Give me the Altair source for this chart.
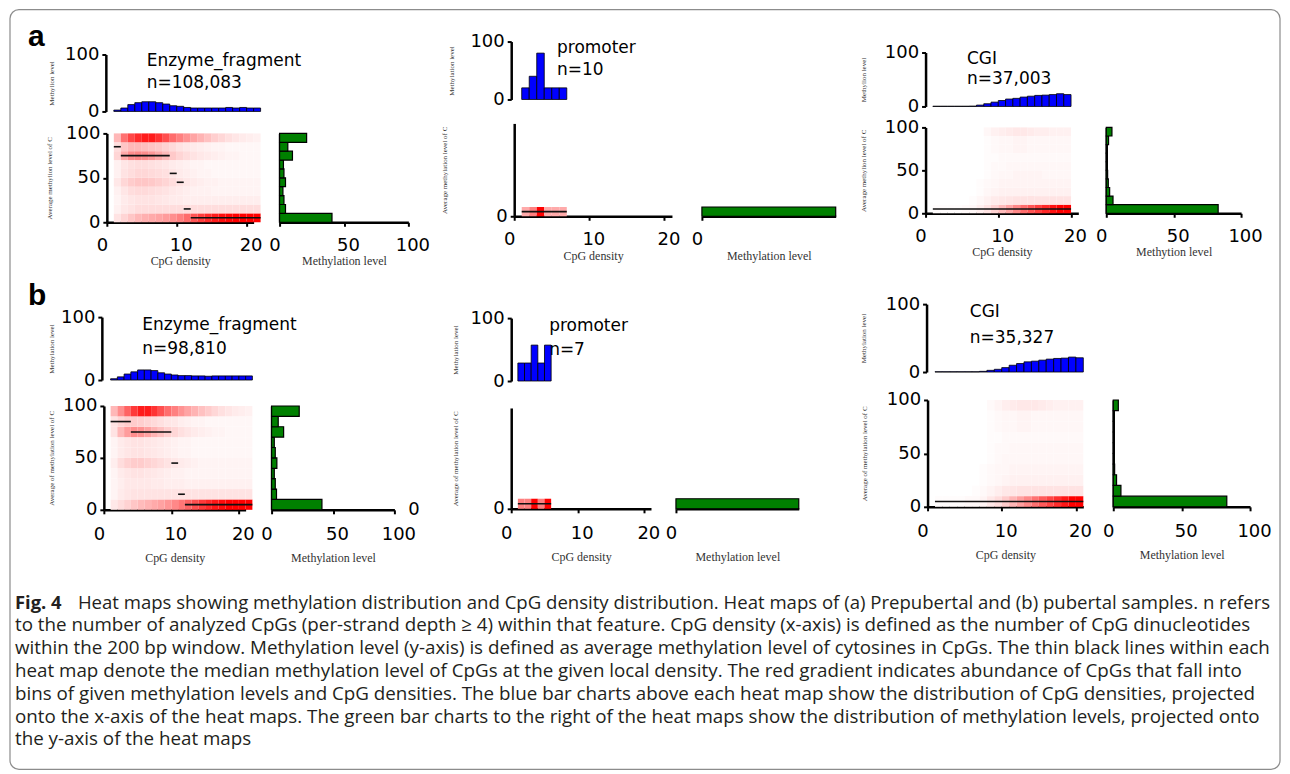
import altair as alt
import pandas as pd

OX, OY = 8, 8          # page margin
W, H = 1276, 764       # whole drawing area

# ------------------------------------------------------------------ data
# blue bars: share of CpGs per CpG-density bin (first bar = density 1)
BLUE_EA = [2.4, 6, 12, 15.4, 17, 17, 15.4, 13, 10, 9, 7, 6, 6, 6, 6, 6, 7, 6, 7, 6, 6]
BLUE_PA = [20, 40, 80, 20, 20, 20]
BLUE_CA = [0.4, 0.4, 0.4, 0.4, 0.4, 0.6, 2.5, 5, 8, 11, 13.7, 15, 17.4, 19, 20.5, 21, 22, 23.6, 22]
BLUE_EB = [2, 5, 9.5, 13, 16, 16, 15, 11.5, 9.5, 8, 7, 7, 6.5, 6.5, 6, 6.5, 6.5, 6.5, 6.5, 6.5, 6.5]
BLUE_PB = [28.6, 28.6, 57.1, 28.6, 57.1]
BLUE_CB = [0.4, 0.4, 0.4, 0.4, 0.4, 0.4, 1, 2.5, 4, 6.5, 10, 12.5, 15, 16, 17.5, 19, 20, 20.5, 22, 21]

# green bars: share of CpGs per methylation bin (0-10 first ... 90-100 last)
GREEN_EA = [40.7, 4.6, 3.4, 2.6, 4.6, 3.4, 3.0, 10.0, 6.4, 21.0]
GREEN_PA = [100]
GREEN_CA = [83, 5, 2.5, 1.5, 1.0, 0.7, 0.5, 0.5, 1.7, 4.2]
GREEN_EB = [41, 4.0, 3.0, 2.2, 4.3, 3.0, 2.2, 9.8, 5.4, 22.5]
GREEN_PB = [100]
GREEN_CB = [83, 5.6, 2.4, 1.0, 0.7, 0.5, 0.5, 0.5, 0.7, 3.7]

# heat maps: abundance (0-100) per cell, rows = methylation bins from 0-10 upward,
# columns = CpG density from 1 upward
HEAT_EA = [
    [10, 15, 20, 25, 28, 30, 32, 35, 40, 45, 52, 60, 68, 75, 80, 85, 88, 92, 95, 98, 100],
    [5, 8, 10, 12, 12, 12, 12, 12, 12, 12, 12, 12, 12, 12, 12, 12, 12, 12, 12, 12, 12],
    [4, 7, 9, 10, 10, 10, 9, 8, 7, 7, 6, 6, 6, 6, 6, 6, 6, 6, 6, 6, 6],
    [5, 9, 12, 13, 13, 12, 11, 10, 8, 7, 6, 5, 5, 5, 4, 4, 4, 4, 4, 4, 4],
    [8, 14, 18, 20, 20, 19, 17, 15, 12, 10, 8, 7, 6, 5, 5, 4, 4, 4, 4, 4, 4],
    [5, 10, 12, 14, 14, 13, 12, 11, 9, 7, 6, 5, 4, 4, 3, 3, 3, 3, 3, 3, 3],
    [5, 9, 11, 12, 12, 11, 10, 9, 7, 6, 5, 4, 4, 3, 3, 3, 3, 3, 3, 3, 3],
    [15, 30, 40, 42, 40, 36, 30, 24, 19, 15, 12, 10, 8, 7, 6, 5, 4, 4, 3, 3, 3],
    [12, 20, 25, 25, 23, 21, 19, 16, 13, 10, 8, 7, 6, 5, 4, 4, 3, 3, 3, 3, 3],
    [25, 50, 65, 75, 80, 80, 72, 62, 52, 45, 38, 32, 27, 22, 17, 14, 11, 9, 7, 6, 5],
]
HEAT_EB = [
    [8, 12, 16, 20, 24, 27, 30, 33, 37, 42, 48, 55, 62, 70, 76, 82, 86, 90, 94, 97, 100],
    [4, 7, 9, 10, 10, 10, 10, 10, 10, 10, 10, 10, 10, 10, 10, 10, 10, 10, 10, 10, 10],
    [4, 6, 8, 8, 8, 8, 7, 7, 6, 6, 6, 5, 5, 5, 5, 5, 5, 5, 5, 5, 5],
    [4, 7, 9, 10, 10, 9, 8, 7, 6, 5, 5, 4, 4, 4, 4, 4, 4, 4, 4, 4, 4],
    [6, 12, 16, 18, 18, 16, 14, 12, 10, 8, 7, 6, 5, 4, 4, 4, 4, 4, 4, 4, 4],
    [4, 7, 9, 10, 10, 9, 8, 7, 6, 5, 4, 4, 3, 3, 3, 3, 3, 3, 3, 3, 3],
    [4, 7, 9, 10, 10, 9, 8, 7, 6, 5, 4, 4, 3, 3, 3, 3, 3, 3, 3, 3, 3],
    [10, 25, 35, 40, 38, 33, 27, 22, 17, 14, 11, 9, 7, 6, 5, 4, 4, 3, 3, 3, 3],
    [10, 15, 18, 18, 17, 15, 13, 11, 9, 8, 6, 5, 4, 4, 3, 3, 3, 3, 3, 3, 3],
    [25, 40, 55, 70, 80, 80, 72, 62, 52, 45, 38, 32, 27, 22, 18, 14, 11, 9, 7, 6, 5],
]
HEAT_PA = [[30, 45, 100, 30, 30, 30]]
HEAT_PB = [[45, 45, 100, 45, 100]]
HEAT_CA = [
    [1, 1, 1, 1, 2, 3, 6, 10, 16, 24, 32, 42, 52, 60, 68, 76, 84, 92, 100],
    [0, 0, 0, 0, 0, 1, 3, 5, 7, 8, 9, 10, 10, 10, 10, 10, 10, 10, 10],
    [0, 0, 0, 0, 0, 0, 1, 3, 4, 5, 5, 5, 5, 5, 5, 5, 5, 5, 5],
    [0, 0, 0, 0, 0, 0, 1, 2, 3, 4, 4, 4, 4, 4, 4, 4, 4, 4, 4],
    [0, 0, 0, 0, 0, 0, 0, 1, 2, 3, 3, 4, 4, 4, 4, 3, 3, 3, 3],
    [0, 0, 0, 0, 0, 0, 0, 1, 2, 2, 3, 3, 3, 3, 3, 3, 3, 3, 3],
    [0, 0, 0, 0, 0, 0, 0, 1, 1, 2, 2, 2, 2, 2, 2, 2, 2, 2, 2],
    [0, 0, 0, 0, 0, 0, 0, 1, 2, 3, 3, 4, 4, 3, 3, 3, 3, 3, 3],
    [0, 0, 0, 0, 0, 0, 0, 1, 2, 3, 3, 4, 4, 3, 3, 3, 3, 3, 3],
    [0, 0, 0, 0, 0, 0, 0, 3, 5, 6, 7, 8, 8, 7, 6, 6, 5, 5, 5],
]
HEAT_CB = [
    [1, 1, 1, 1, 2, 2, 4, 8, 12, 18, 26, 34, 42, 50, 58, 66, 74, 82, 90, 100],
    [0, 0, 0, 0, 0, 1, 2, 4, 6, 8, 9, 10, 10, 10, 10, 10, 10, 10, 10, 10],
    [0, 0, 0, 0, 0, 0, 1, 2, 3, 4, 5, 5, 5, 5, 5, 5, 5, 5, 5, 5],
    [0, 0, 0, 0, 0, 0, 1, 2, 3, 3, 4, 4, 4, 4, 4, 4, 4, 4, 4, 4],
    [0, 0, 0, 0, 0, 0, 0, 1, 2, 3, 3, 3, 3, 3, 3, 3, 3, 3, 3, 3],
    [0, 0, 0, 0, 0, 0, 0, 1, 2, 2, 3, 3, 3, 3, 3, 3, 3, 3, 3, 3],
    [0, 0, 0, 0, 0, 0, 0, 1, 1, 2, 2, 2, 2, 2, 2, 2, 2, 2, 2, 2],
    [0, 0, 0, 0, 0, 0, 0, 1, 2, 3, 3, 4, 4, 3, 3, 3, 3, 3, 3, 3],
    [0, 0, 0, 0, 0, 0, 0, 1, 2, 3, 3, 4, 4, 3, 3, 3, 3, 3, 3, 3],
    [0, 0, 0, 0, 0, 0, 0, 2, 4, 6, 7, 8, 8, 8, 7, 6, 5, 5, 5, 5],
]

# median methylation level per density run: (density from, density to, level)
MED_EA = [(1, 2, 85), (2, 9, 75), (9, 10, 55), (10, 11, 45), (11, 12, 15), (12, 22, 5)]
MED_EB = [(1, 4, 85), (4, 10, 75), (10, 11, 45), (11, 12, 15), (12, 22, 5)]
MED_PA = [(1, 7, 5)]
MED_PB = [(1, 6, 5)]
MED_CA = [(1, 20, 5)]
MED_CB = [(1, 21, 5)]

FEATURES = ["Enzyme_fragment", "promoter", "CGI"]
N_A = ["n=108,083", "n=10", "n=37,003"]
N_B = ["n=98,810", "n=7", "n=35,327"]

CAPTION_BOLD = "Fig. 4"
CAPTION_FIRST = ("Heat maps showing methylation distribution and CpG density distribution. "
                 "Heat maps of (a) Prepubertal and (b) pubertal samples. n refers")
CAPTION_LINES = [
    "to the number of analyzed CpGs (per-strand depth \u2265 4) within that feature. CpG density (x-axis) is defined as the number of CpG dinucleotides",
    "within the 200 bp window. Methylation level (y-axis) is defined as average methylation level of cytosines in CpGs. The thin black lines within each",
    "heat map denote the median methylation level of CpGs at the given local density. The red gradient indicates abundance of CpGs that fall into",
    "bins of given methylation levels and CpG densities. The blue bar charts above each heat map show the distribution of CpG densities, projected",
    "onto the x-axis of the heat maps. The green bar charts to the right of the heat maps show the distribution of methylation levels, projected onto",
    "the y-axis of the heat maps",
]
STRAY_LABEL = "0"

# ------------------------------------------------------------------ layout (page px)
GEO = {
    "Ea": dict(dens=(107, 254), heat=(222, 133), top=(111, 54), top_ax=106, green=(280, 409),
               ttl_top=-54, ttl_heat=-57, lab_pad=10, xt=38),
    "Pa": dict(dens=(515, 673), heat=(216, 123), top=(99, 41), top_ax=512, green=(703, 837),
               ttl_top=-60, ttl_heat=-70, lab_pad=10, xt=39),
    "Ca": dict(dens=(927, 1080), heat=(213, 127), top=(106, 52), top_ax=927, green=(1108, 1243),
               ttl_top=-62, ttl_heat=-62, lab_pad=10, xt=38),
    "Eb": dict(dens=(104, 246), heat=(510, 406), top=(380, 317), top_ax=102, green=(272, 395),
               ttl_top=-50, ttl_heat=-52, lab_pad=12, xt=48),
    "Pb": dict(dens=(512, 652), heat=(509, 408), top=(381, 318), top_ax=512, green=(677, 800),
               ttl_top=-56, ttl_heat=-56, lab_pad=12, xt=48),
    "Cb": dict(dens=(929, 1085), heat=(507, 400), top=(372, 304), top_ax=928, green=(1115, 1252),
               ttl_top=-63, ttl_heat=-63, lab_pad=12, xt=48),
}

LABEL_FONT = "DejaVu Sans"
SERIF = "Liberation Serif"
CAP_FONT = "Open Sans"
BLUE = "#0000ff"
GREEN = "#008000"
HEAT_SCALE = alt.Scale(domain=[0, 90], range=["#ffffff", "#ff0000"], interpolate="rgb", clamp=True)
X_LABEL_SHIFT = {"condition": {"test": "datum.value == 0", "value": -5}, "value": 4}


def x_axis(axis_y, values, title, lab_pad, title_y):
    return alt.Axis(orient="bottom", offset=(axis_y - OY) - H, values=values, title=title,
                    titleY=title_y, titleBaseline="middle", titleFont=SERIF, titleFontSize=12,
                    titleFontWeight="normal", titleColor="#333333",
                    labelFont=LABEL_FONT, labelFontSize=18, labelColor="black",
                    labelPadding=lab_pad, labelFlush=False, labelOverlap=False,
                    labelOffset=X_LABEL_SHIFT,
                    tickSize=4, tickWidth=2, tickColor="black",
                    domainColor="black", domainWidth=2.5, grid=False)


def y_axis(axis_x, values, title, title_x):
    return alt.Axis(orient="left", offset=-(axis_x - OX), values=values, title=title,
                    titleX=title_x, titleBaseline="middle", titleFont=SERIF, titleFontSize=7,
                    titleFontWeight="normal", titleColor="#333333",
                    labelFont=LABEL_FONT, labelFontSize=18, labelColor="black",
                    labelPadding=3, labelFlush=False, labelOverlap=False,
                    tickSize=4, tickWidth=2, tickColor="black",
                    domainColor="black", domainWidth=2.5, grid=False)


def panel(key, feature, ntext, blue, heat, med, green, top_title, heat_title, green_title,
          promoter=False, stray=None):
    g = GEO[key]
    xs = alt.Scale(domain=[0, 21], range=[g["dens"][0] - OX, g["dens"][1] - OX], nice=False, zero=False)
    ys_top = alt.Scale(domain=[0, 100], range=[g["top"][0] - OY, g["top"][1] - OY], nice=False)
    ys_heat = alt.Scale(domain=[0, 100], range=[g["heat"][0] - OY, g["heat"][1] - OY], nice=False)
    xs_green = alt.Scale(domain=[0, 100], range=[g["green"][0] - OX, g["green"][1] - OX], nice=False)

    # ---- top histogram (+ feature name and n)
    top_y_axis = y_axis(g["top_ax"], [0, 100], top_title, g["ttl_top"])
    bdf = pd.DataFrame({"d": [i + 1 for i in range(len(blue))],
                        "d2": [i + 2 for i in range(len(blue))],
                        "v": blue, "z": [0] * len(blue)})
    tdf = pd.DataFrame({"x": [5.7, 5.7], "y": [88, 50], "t": [feature, ntext]})
    txt = alt.Chart(tdf).mark_text(align="left", baseline="middle", font=LABEL_FONT,
                                   fontSize=17, color="black").encode(
        x=alt.X("x:Q", scale=xs, axis=None),
        y=alt.Y("y:Q", scale=ys_top, axis=top_y_axis),
        text="t:N")
    bars = alt.Chart(bdf).mark_rect(fill=BLUE, stroke="black", strokeWidth=0.8).encode(
        x=alt.X("d:Q", scale=xs, axis=None), x2="d2:Q",
        y=alt.Y("v:Q", scale=ys_top, axis=top_y_axis),
        y2="z:Q")
    top = alt.layer(txt, bars)

    # ---- heat map + medians
    rows = []
    for r, row in enumerate(heat):
        for c, val in enumerate(row):
            rows.append({"d": c + 1, "d2": c + 2, "lo": 10 * r, "hi": 10 * r + 10, "v": val})
    hdf = pd.DataFrame(rows)
    yvals = [0] if promoter else [0, 50, 100]
    hx_axis = x_axis(g["heat"][0], [0, 10, 20], "CpG density", g["lab_pad"], g["xt"])
    hy_axis = y_axis(g["dens"][0], yvals, heat_title, g["ttl_heat"])
    cells = alt.Chart(hdf).mark_rect(strokeWidth=0).encode(
        x=alt.X("d:Q", scale=xs, axis=hx_axis), x2="d2:Q",
        y=alt.Y("lo:Q", scale=ys_heat, axis=hy_axis), y2="hi:Q",
        color=alt.Color("v:Q", scale=HEAT_SCALE, legend=None))
    mdf = pd.DataFrame(med, columns=["a", "b", "lvl"])
    meds = alt.Chart(mdf).mark_rule(color="#111111", strokeWidth=1.6).encode(
        x=alt.X("a:Q", scale=xs, axis=hx_axis), x2="b:Q",
        y=alt.Y("lvl:Q", scale=ys_heat, axis=hy_axis))
    heatmap = alt.layer(cells, meds)

    # ---- green histogram
    gdf = pd.DataFrame({"lo": [10 * i for i in range(len(green))],
                        "hi": [10 * i + 10 for i in range(len(green))],
                        "v": green, "z": [0] * len(green)})
    gvals = [0] if promoter else [0, 50, 100]
    if promoter:
        gy_axis = None
    else:
        gy_axis = alt.Axis(orient="left", offset=-(g["green"][0] - OX), labels=False, ticks=False,
                           title=None, grid=False, domainColor="black", domainWidth=2.5)
    gx_axis = x_axis(g["heat"][0], gvals, green_title, g["lab_pad"], g["xt"])
    gbars = alt.Chart(gdf).mark_rect(fill=GREEN, stroke="black", strokeWidth=1.2).encode(
        x=alt.X("z:Q", scale=xs_green, axis=gx_axis), x2="v:Q",
        y=alt.Y("lo:Q", scale=ys_heat, axis=gy_axis), y2="hi:Q")
    out = [top, heatmap]
    if stray is not None:
        sdf = pd.DataFrame({"x": [stray[0]], "y": [stray[1]], "t": [stray[2]]})
        stext = alt.Chart(sdf).mark_text(font=LABEL_FONT, fontSize=18, baseline="middle",
                                         align="center", color="black").encode(
            x=alt.X("x:Q", scale=xs_green, axis=gx_axis),
            y=alt.Y("y:Q", scale=ys_heat, axis=gy_axis), text="t:N")
        out.append(alt.layer(gbars, stext))
    else:
        out.append(gbars)
    return out


layers = []
layers += panel("Ea", FEATURES[0], N_A[0], BLUE_EA, HEAT_EA, MED_EA, GREEN_EA,
                "Methylion level", "Average methylion level of C", "Methylation level")
layers += panel("Pa", FEATURES[1], N_A[1], BLUE_PA, HEAT_PA, MED_PA, GREEN_PA,
                "Methylation level", "Average methylation level of C", "Methylation level", promoter=True)
layers += panel("Ca", FEATURES[2], N_A[2], BLUE_CA, HEAT_CA, MED_CA, GREEN_CA,
                "Methylion level", "Average methylion level of C", "Methytion level")
layers += panel("Eb", FEATURES[0], N_B[0], BLUE_EB, HEAT_EB, MED_EB, GREEN_EB,
                "Methylation level", "Average of methylation level of C", "Methylation level",
                stray=(116, 0, STRAY_LABEL))
layers += panel("Pb", FEATURES[1], N_B[1], BLUE_PB, HEAT_PB, MED_PB, GREEN_PB,
                "Methylation level", "Average of methylation level of C", "Methylation level", promoter=True)
layers += panel("Cb", FEATURES[2], N_B[2], BLUE_CB, HEAT_CB, MED_CB, GREEN_CB,
                "Methylation level", "Average of methylation level of C", "Methylation level")

# panel letters
letters = alt.Chart(pd.DataFrame({"t": ["a"]})).mark_text(
    font="Liberation Sans", fontSize=30, fontWeight="bold", align="left", baseline="alphabetic",
    color="black").encode(text="t:N", x=alt.value(28 - OX), y=alt.value(45 - OY))
letters_b = alt.Chart(pd.DataFrame({"t": ["b"]})).mark_text(
    font="Liberation Sans", fontSize=30, fontWeight="bold", align="left", baseline="alphabetic",
    color="black").encode(text="t:N", x=alt.value(28 - OX), y=alt.value(305 - OY))

# caption
cap_scale = alt.Scale(domain=[0, 6], range=[603 - OY, 740 - OY], nice=False)
cap_df = pd.DataFrame({"i": list(range(1, 7)), "t": CAPTION_LINES})
cap = alt.Chart(cap_df).mark_text(font=CAP_FONT, fontSize=18.8, align="left", baseline="middle",
                                  color="#231f20").encode(
    text="t:N", x=alt.value(15 - OX), y=alt.Y("i:Q", scale=cap_scale, axis=None))
cap_b = alt.Chart(pd.DataFrame({"i": [0], "t": [CAPTION_BOLD]})).mark_text(
    font=CAP_FONT, fontSize=18.4, fontWeight="bold", align="left", baseline="middle",
    color="#231f20").encode(text="t:N", x=alt.value(15 - OX), y=alt.Y("i:Q", scale=cap_scale, axis=None))
cap_1 = alt.Chart(pd.DataFrame({"i": [0], "t": [CAPTION_FIRST]})).mark_text(
    font=CAP_FONT, fontSize=18.6, align="left", baseline="middle",
    color="#231f20").encode(text="t:N", x=alt.value(78 - OX), y=alt.Y("i:Q", scale=cap_scale, axis=None))

border = alt.Chart(pd.DataFrame({"k": [0]})).mark_rect(
    filled=False, stroke="#8c8c8c", strokeWidth=1.2, cornerRadius=9).encode(
    x=alt.value(2), x2=alt.value(1274), y=alt.value(1), y2=alt.value(762))

chart = alt.layer(*layers, letters, letters_b, cap, cap_b, cap_1, border).resolve_scale(
    x="independent", y="independent").resolve_axis(
    x="independent", y="independent").properties(
    width=W, height=H, padding=0,
    autosize=alt.AutoSizeParams(type="none")).configure_view(stroke=None)

chart.save("out.html", embed_options={"renderer": "svg", "actions": False})
